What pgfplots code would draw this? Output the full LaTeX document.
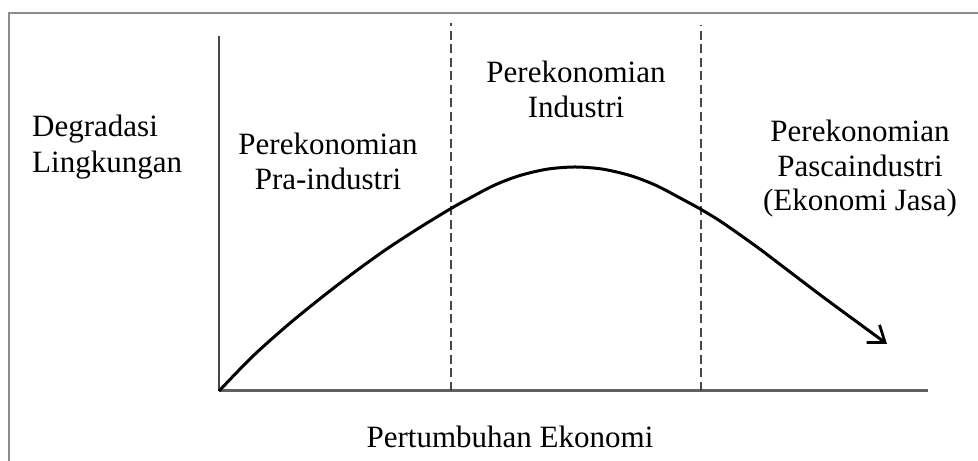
\documentclass[border=0pt]{standalone}
\usepackage{fontspec}
\setmainfont{Liberation Serif}
\usepackage{pgfplots}
\pgfplotsset{compat=1.18}
\usetikzlibrary{arrows.meta}
\begin{document}
\begin{tikzpicture}[x=1bp,y=1bp]
\useasboundingbox (0,0) rectangle (978,461);
\fill[white] (0,0) rectangle (978,461);
\draw[color=black!45, line width=1.8bp] (9,-10) -- (9,448) -- (990,448);
\begin{axis}[
  at={(219bp,70bp)}, anchor=south west,
  scale only axis, width=709bp, height=355bp,
  xmin=0, xmax=709, ymin=0, ymax=355,
  axis lines=left,
  x axis line style={-, color=black!62, line width=3bp},
  y axis line style={-, color=black!72, line width=2.4bp},
  xtick=\empty, ytick=\empty,
  clip=false,
]
\addplot[color=black!72, line width=2.2bp, dash pattern=on 9bp off 4.5bp] coordinates {(232,0) (232,368)};
\addplot[color=black!72, line width=2.2bp, dash pattern=on 9bp off 4.5bp] coordinates {(482,0) (482,366)};
\addplot[black, line width=3bp, smooth, -{Straight Barb[length=15bp,width=22bp,line width=2.8bp]}] coordinates {
(0,0) (33,34) (67,64.5) (100,91.5) (133,117) (167,141.5) (200,163) (232,182.5)
(250,192.5) (275,205.6) (300,215.2) (328,221.8) (356,224) (384,221.8) (412,215.2)
(437,205.6) (462,192.5) (483,181) (504,168) (538,144) (571,119) (604,94) (638,69) (668,47)
};
\end{axis}
\begin{scope}[every node/.style={inner sep=0pt, font=\fontsize{31bp}{35bp}\selectfont}]
\node[anchor=base west] at (32,324) {Degradasi};
\node[anchor=base west] at (32,288) {Lingkungan};
\node[anchor=base] at (328,306) {Perekonomian};
\node[anchor=base] at (328,271) {Pra-industri};
\node[anchor=base] at (576,378) {Perekonomian};
\node[anchor=base] at (576,343) {Industri};
\node[anchor=base] at (860,319) {Perekonomian};
\node[anchor=base] at (860,284) {Pascaindustri};
\node[anchor=base] at (860,250) {(Ekonomi Jasa)};
\node[anchor=base] at (510,13) {Pertumbuhan Ekonomi};
\end{scope}
\end{tikzpicture}
\end{document}
